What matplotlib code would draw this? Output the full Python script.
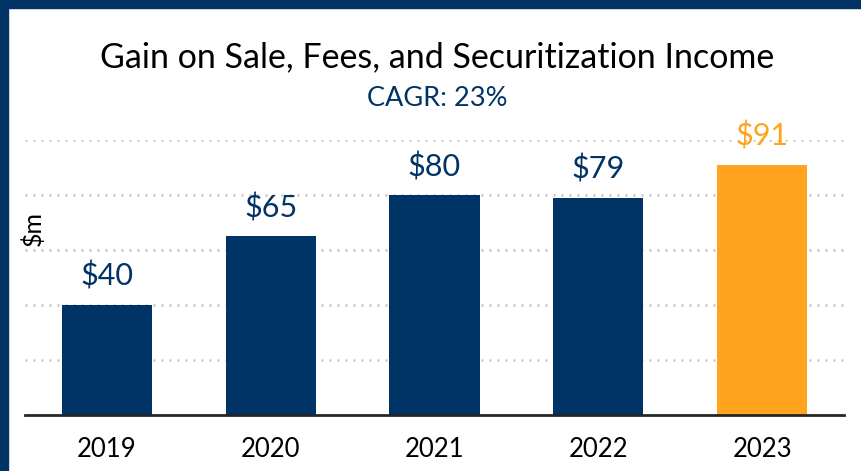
import matplotlib
matplotlib.use("Agg")
import matplotlib.pyplot as plt
from matplotlib.patches import Rectangle

years = ["2019", "2020", "2021", "2022", "2023"]
values = [40, 65, 80, 79, 91]
labels = ["$40", "$65", "$80", "$79", "$91"]
NAVY = "#003366"
ORANGE = "#FFA41C"
colors = [NAVY, NAVY, NAVY, NAVY, ORANGE]

plt.rcParams['font.family'] = ['Lato', 'DejaVu Sans']

fig = plt.figure(figsize=(8.62, 4.71), dpi=100)
W, H = 862, 471
# frame stripes (left and top)
fig.patches.append(Rectangle((0, 0), 8 / W, 1, transform=fig.transFigure, color=NAVY, zorder=10))
fig.patches.append(Rectangle((0, 1 - 8 / H), 1, 8 / H, transform=fig.transFigure, color=NAVY, zorder=10))

left, right = 25 / W, 844 / W
bottom = (H - 414.5) / H
top = (H - 140) / H
ax = fig.add_axes([left, bottom, right - left, top - bottom])

x = list(range(len(years)))
ax.bar(x, values, width=0.55, color=colors, zorder=2)
ax.set_xlim(-0.5, len(years) - 0.5)
ax.set_ylim(0, 100)
ax.set_yticks([20, 40, 60, 80, 100])
ax.yaxis.grid(True, linestyle=(0, (0.8, 2.4)), color="#c4c4c4", linewidth=1.8, zorder=0)
ax.set_yticklabels([])
ax.tick_params(axis='y', length=0)
ax.tick_params(axis='x', length=0, pad=16, labelsize=18.5)
ax.set_xticks(x)
ax.set_xticklabels(years)
for s in ["top", "right", "left"]:
    ax.spines[s].set_visible(False)
ax.spines["bottom"].set_color("#262626")
ax.spines["bottom"].set_linewidth(2)
ax.spines["bottom"].set_zorder(3)

for xi, v, lab, c in zip(x, values, labels, colors):
    ax.annotate(lab, (xi, v), xytext=(0, 10), textcoords="offset points",
                ha="center", va="bottom", fontsize=22, color=c, zorder=4)

fig.text(33 / W, 1 - 228 / H, "$m", rotation=90, ha="center", va="center",
         fontsize=18, color="black")

fig.text(437 / W, 1 - 57 / H, "Gain on Sale, Fees, and Securitization Income",
         ha="center", va="center", fontsize=24.5, color="black")
fig.text(437 / W, 1 - 99 / H, "CAGR: 23%", ha="center", va="center",
         fontsize=19.5, color=NAVY)

fig.savefig("out.png", dpi=100)
